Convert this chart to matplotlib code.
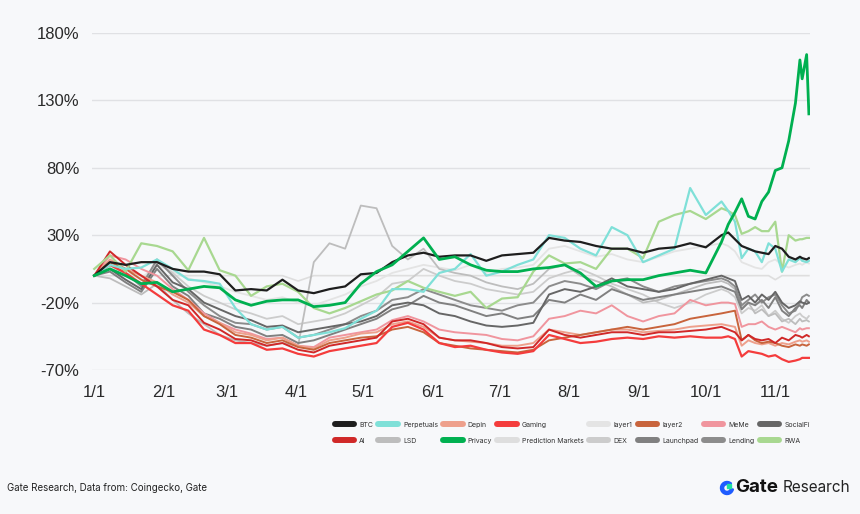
import matplotlib
matplotlib.use("Agg")
import matplotlib.pyplot as plt
from matplotlib.lines import Line2D
from matplotlib.patches import Wedge, Rectangle

# day offsets from 1 Jan (weekly, then every few days near the end)
days = [0, 7, 14, 21, 28, 35, 42, 49, 56, 63, 70, 77, 84, 91, 98, 105, 112, 119, 126, 133,
        140, 147, 154, 161, 168, 175, 182, 189, 196, 203, 210, 217, 224, 231, 238, 245, 252,
        259, 266, 273, 280, 283, 286, 289, 292, 295, 298, 301, 304, 307, 310, 313, 315, 316,
        318, 319]

btc = [0, 10, 8, 10, 10, 5, 3, 3, 1, -11, -10, -11, -3, -11, -13, -10, -8, 1, 2, 10,
       15, 17, 14, 15, 15, 11, 15, 16, 17, 28, 26, 25, 22, 20, 20, 17, 20, 21, 24, 21,
       30, 32, 27, 22, 20, 18, 17, 16, 22, 20, 14, 12, 14, 13, 12, 13]
ai = [0, 18, 8, 0, -8, -18, -22, -35, -40, -47, -48, -52, -50, -55, -57, -52, -50, -48, -46, -34,
      -32, -36, -46, -48, -48, -50, -53, -54, -53, -40, -44, -46, -44, -42, -42, -44, -42, -42, -41, -40,
      -38, -40, -42, -48, -44, -47, -48, -47, -50, -46, -48, -44, -45, -46, -44, -45]
perpetuals = [0, 8, 5, 6, 12, 5, -3, -4, -6, -24, -36, -40, -38, -46, -44, -42, -39, -32, -26, -10,
              -10, -12, 2, 5, 16, 0, 3, 8, 12, 30, 28, 20, 15, 36, 30, 10, 15, 20, 65, 45,
              55, 48, 40, 13, 20, 18, 10, 24, 20, 3, 12, 10, 13, 11, 10, 11]
lsd = [0, -2, -8, -14, -6, -18, -28, -36, -44, -48, -50, -52, -50, -52, 10, 24, 20, 52, 50, 22,
       12, 20, 5, 2, 0, -5, -8, -10, -6, 5, 8, 0, -4, -8, -14, -20, -18, -14, -10, -6,
       -4, -6, -10, -24, -20, -28, -25, -30, -28, -34, -32, -36, -32, -34, -33, -34]
depin = [0, 12, 5, 0, -5, -14, -20, -30, -35, -42, -44, -48, -46, -52, -54, -48, -46, -43, -42, -36,
         -34, -38, -46, -48, -49, -50, -52, -52, -50, -40, -42, -44, -42, -40, -40, -42, -41, -40, -38, -37,
         -36, -37, -38, -52, -48, -50, -51, -50, -52, -50, -51, -49, -48, -49, -48, -49]
privacy = [0, 5, 0, -6, -5, -12, -10, -8, -9, -18, -22, -19, -18, -18, -23, -22, -20, -6, 3, 8,
           18, 28, 12, 14, 8, 4, 3, 3, 5, 6, 8, 2, -8, -4, -3, -3, 0, 2, 4, 2,
           25, 38, 47, 57, 44, 42, 55, 62, 78, 80, 100, 128, 160, 146, 164, 120]
gaming = [0, 8, 2, -6, -14, -22, -26, -40, -44, -50, -50, -55, -54, -58, -60, -56, -54, -52, -50, -38,
          -35, -40, -50, -53, -52, -55, -57, -58, -56, -44, -47, -50, -49, -47, -46, -47, -45, -46, -45, -46,
          -46, -45, -47, -60, -56, -57, -58, -60, -59, -62, -64, -63, -62, -61, -61, -61]
prediction_markets = [0] * 13 + [-4] + [0] * 34 + [-3] + [0] * 7
layer1 = [0, 6, 2, -2, 8, 3, -2, -5, -8, -12, -15, -18, -16, -20, -22, -18, -14, -8, -4, 2,
          5, 8, 6, 4, 8, 2, 5, 6, 8, 20, 22, 18, 14, 16, 12, 10, 14, 18, 20, 22,
          24, 22, 18, 10, 8, 6, 5, 10, 12, 8, 6, 8, 9, 8, 10, 9]
dex = [0, 5, 0, -6, 10, 2, -8, -15, -20, -25, -28, -32, -30, -36, -34, -32, -28, -22, -16, -6,
       -4, 5, 0, -4, -6, -10, -12, -14, -12, -2, 2, 5, 0, -6, -10, -14, -20, -24, -20, -14,
       -10, -12, -16, -28, -24, -26, -22, -30, -26, -32, -35, -30, -28, -30, -32, -30]
layer2 = [0, 10, 5, -3, -8, -12, -18, -30, -36, -44, -46, -50, -48, -53, -55, -50, -48, -46, -45, -40,
          -38, -42, -50, -52, -54, -55, -56, -57, -55, -48, -46, -44, -42, -40, -38, -40, -38, -36, -32, -30,
          -28, -27, -26, -48, -44, -48, -50, -49, -50, -52, -53, -51, -52, -51, -52, -51]
launchpad = [0, 3, -5, -12, 5, -8, -15, -28, -32, -38, -40, -45, -44, -50, -48, -44, -40, -36, -32, -25,
             -22, -15, -20, -22, -26, -30, -28, -32, -30, -18, -20, -14, -18, -10, -14, -18, -16, -14, -12, -10,
             -8, -10, -12, -25, -20, -22, -18, -24, -16, -26, -30, -24, -22, -24, -18, -20]
meme = [0, 15, 12, 5, 0, -10, -18, -28, -35, -40, -43, -47, -46, -52, -53, -46, -44, -42, -40, -33,
        -30, -34, -40, -42, -43, -44, -47, -48, -45, -32, -30, -26, -28, -22, -30, -34, -30, -28, -18, -22,
        -20, -20, -21, -38, -36, -36, -34, -38, -40, -38, -40, -42, -39, -40, -39, -39]
lending = [0, 8, 2, -8, 12, 0, -12, -22, -30, -35, -36, -40, -38, -46, -44, -40, -36, -30, -26, -18,
           -16, -10, -14, -18, -22, -24, -26, -22, -20, -8, -4, -6, -10, -4, -2, -8, -12, -8, -6, -4,
           -2, -4, -8, -22, -18, -14, -20, -16, -14, -22, -28, -26, -20, -16, -14, -15]
socialfi = [0, 5, -3, -10, 8, -5, -10, -20, -25, -30, -33, -38, -37, -42, -40, -38, -36, -34, -30, -22,
            -20, -22, -28, -30, -34, -37, -38, -37, -35, -14, -10, -12, -8, -2, -8, -10, -12, -10, -6, -3,
            0, -2, -4, -18, -15, -20, -14, -18, -12, -20, -24, -22, -19, -20, -21, -20]
rwa = [5, 15, 3, 24, 22, 18, 4, 28, 4, 0, -15, -8, -6, -12, -24, -28, -24, -19, -14, -11,
       -4, -9, -12, -15, -12, -24, -17, -16, 3, 15, 9, 10, 5, 20, 20, 13, 40, 45, 48, 42,
       50, 48, 45, 31, 33, 36, 33, 33, 40, 3, 30, 26, 27, 27, 28, 28]

month_days = [0, 31, 59, 90, 120, 151, 181, 212, 243, 273, 304]
month_labels = ["1/1", "2/1", "3/1", "4/1", "5/1", "6/1", "7/1", "8/1", "9/1", "10/1", "11/1"]
y_ticks = [-70, -20, 30, 80, 130, 180]

# name -> (values, colour, width); dict order is the legend order (column-major)
series = {
    "BTC": (btc, "#1e1e1e", 1.6),
    "AI": (ai, "#d02828", 1.4),
    "Perpetuals": (perpetuals, "#7fe0d8", 1.6),
    "LSD": (lsd, "#bdbdbd", 1.3),
    "Depin": (depin, "#eea08c", 1.4),
    "Privacy": (privacy, "#00b050", 2.0),
    "Gaming": (gaming, "#f43c3c", 1.6),
    "Prediction Markets": (prediction_markets, "#dedede", 1.2),
    "layer1": (layer1, "#e4e4e4", 1.3),
    "DEX": (dex, "#cccccc", 1.3),
    "layer2": (layer2, "#c8643c", 1.4),
    "Launchpad": (launchpad, "#808080", 1.4),
    "MeMe": (meme, "#f0959e", 1.4),
    "Lending": (lending, "#8c8c8c", 1.4),
    "SocialFi": (socialfi, "#666666", 1.4),
    "RWA": (rwa, "#a8d890", 1.6),
}
draw_order = ["Prediction Markets", "layer1", "DEX", "LSD", "Lending", "Launchpad", "SocialFi",
              "MeMe", "Depin", "layer2", "AI", "Gaming", "RWA", "Perpetuals", "BTC", "Privacy"]

bg = "#f7f8fa"
fig = plt.figure(figsize=(8.6, 5.14), dpi=100, facecolor=bg)
ax = fig.add_axes([92 / 860, 1 - 370 / 514, 718 / 860, 337 / 514], facecolor=bg)

for name in draw_order:
    vals, color, lw = series[name]
    ax.plot(days, vals, color=color, lw=lw, solid_joinstyle="round")

ax.set_xlim(-1, 319.5)
ax.set_ylim(-70, 180)
ax.set_yticks(y_ticks)
ax.set_yticklabels([f"{v}%" for v in y_ticks])
ax.set_xticks(month_days)
ax.set_xticklabels(month_labels)
ax.grid(axis="y", color="#e0e1e4", lw=1.0)
ax.set_axisbelow(True)
for s in ax.spines.values():
    s.set_visible(False)
ax.tick_params(length=0, labelsize=12, colors="#2a2a2a")
ax.tick_params(axis="y", pad=9)
ax.tick_params(axis="x", pad=11)
for lab in ax.get_xticklabels() + ax.get_yticklabels():
    lab.set_family("Liberation Sans")

handles = [Line2D([], [], color=series[n][1], lw=4.3, solid_capstyle="round") for n in series]
fig.legend(handles, list(series.keys()), ncol=8, loc="upper left",
           bbox_to_anchor=(329 / 860, 1 - 416 / 514), frameon=False,
           prop={"family": "Inter", "size": 5.0}, handlelength=2.8, handletextpad=0.75,
           columnspacing=0.75, labelspacing=1.45, borderpad=0.3, labelcolor="#333333")

fig.text(7 / 860, 1 - 488 / 514, "Gate Research, Data from: Coingecko, Gate",
         fontsize=7, family="Inter", color="#222222", va="center")

# logo
lax = fig.add_axes([718 / 860, 1 - 497 / 514, 18 / 860, 18 / 514])
lax.set_xlim(0, 1)
lax.set_ylim(0, 1)
lax.axis("off")
lax.add_patch(Wedge((0.5, 0.5), 0.36, 45, 350, width=0.17, color="#1f5cff"))
lax.add_patch(Rectangle((0.5, 0.5), 0.2, 0.2, color="#1fe0a0"))
fig.text(735 / 860, 1 - 488 / 514, "Gate", fontsize=13.5, family="Inter", weight="bold",
         color="#111111", va="center")
fig.text(783 / 860, 1 - 488 / 514, "Research", fontsize=11, family="Inter",
         color="#222222", va="center")

fig.savefig("out.png", dpi=100, facecolor=bg)
